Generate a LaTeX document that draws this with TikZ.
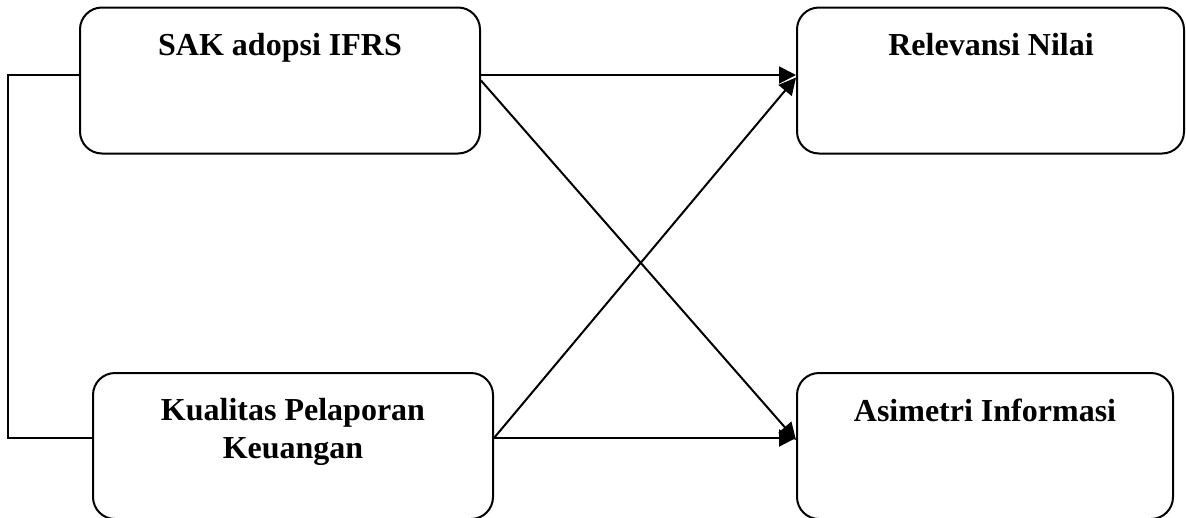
\documentclass[tikz,border=0pt]{standalone}
\usepackage{fontspec}
\setmainfont{Liberation Serif}
\usetikzlibrary{arrows.meta}
\tikzset{
  box/.style={draw, line width=2pt, rounded corners=22pt, inner sep=0pt, minimum height=146pt},
  lbl/.style={font=\fontsize{32pt}{38pt}\selectfont\bfseries, inner sep=0pt, align=center, anchor=base},
  link/.style={line width=2pt},
  arr/.style={line width=2pt, -{Triangle[length=17pt 0 0,width=17pt 0 0]}}
}
\begin{document}
\begin{tikzpicture}[x=1pt,y=-1pt]
\useasboundingbox (0,0) rectangle (1186,517);
\node[box, minimum width=400pt] (a) at (280,80.5) {};
\node[box, minimum width=387pt] (b) at (990.5,80.5) {};
\node[box, minimum width=400pt] (c) at (293,446) {};
\node[box, minimum width=376pt] (d) at (985,446) {};
\node[lbl] (ta) at (280,55) {SAK adopsi IFRS};
\node[lbl] (tb) at (991,55) {Relevansi Nilai};
\node[lbl] (tc) at (293,458) {Kualitas Pelaporan\\Keuangan};
\node[lbl] (td) at (985,421) {Asimetri Informasi};
\draw[link] ([yshift=5.5pt]a.west) -- ++(-71,0) |- ([yshift=8pt]c.west);
\draw[arr] ([yshift=5.5pt]a.east) -- ([yshift=5.5pt]b.west);
\draw[arr] ([yshift=0pt]a.east) -- ([yshift=6pt]d.west);
\draw[arr] ([yshift=8pt]c.east) -- ([yshift=3pt]b.west);
\draw[arr] ([yshift=8pt]c.east) -- ([yshift=8pt]d.west);
\end{tikzpicture}
\end{document}
